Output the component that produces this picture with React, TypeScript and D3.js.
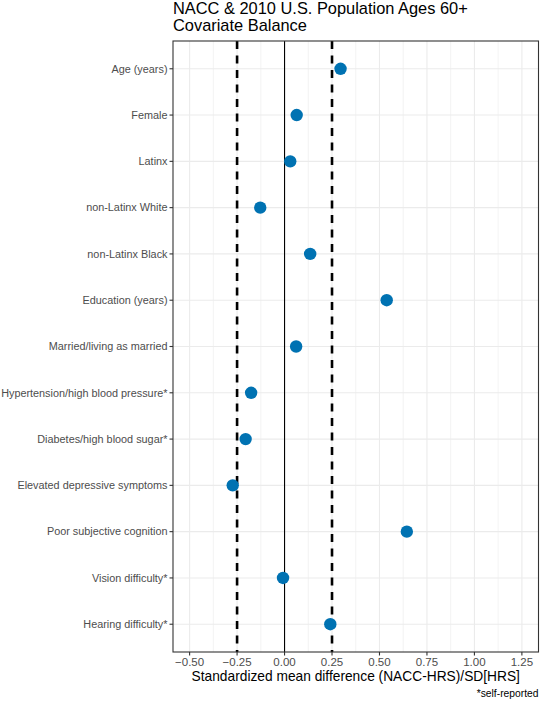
import React from "react";
import * as d3 from "d3";

const categories = [
  "Age (years)",
  "Female",
  "Latinx",
  "non-Latinx White",
  "non-Latinx Black",
  "Education (years)",
  "Married/living as married",
  "Hypertension/high blood pressure*",
  "Diabetes/high blood sugar*",
  "Elevated depressive symptoms",
  "Poor subjective cognition",
  "Vision difficulty*",
  "Hearing difficulty*",
];
const smd = [0.295, 0.064, 0.03, -0.128, 0.135, 0.538, 0.061, -0.176, -0.205, -0.273, 0.644, -0.008, 0.241];
const xTicks = [-0.5, -0.25, 0, 0.25, 0.5, 0.75, 1.0, 1.25];
const xMinor = [-0.375, -0.125, 0.125, 0.375, 0.625, 0.875, 1.125];
const thresholds = [-0.25, 0.25];
const titleLines = ["NACC & 2010 U.S. Population Ages 60+", "Covariate Balance"];
const xTitle = "Standardized mean difference (NACC-HRS)/SD[HRS]";
const caption = "*self-reported";

export default function App() {
  const W = 540, H = 702;
  const left = 173, right = 538.5, top = 41, bottom = 652;
  const font = "'Liberation Sans', Arial, sans-serif";
  const x = d3.scaleLinear().domain([-0.5875, 1.3375]).range([left, right]);
  const y = d3.scalePoint<string>().domain(categories).range([top, bottom]).padding(0.6);
  return (
    <svg width={W} height={H} style={{ position: "absolute", left: 0, top: 0, background: "#fff" }} fontFamily={font}>
      <rect x={0} y={0} width={W} height={H} fill="#fff" />
      {titleLines.map((t, i) => (
        <text key={t} x={left} y={14 + i * 17} fontSize={16.4} fill="#000">{t}</text>
      ))}
      {/* minor grid */}
      {xMinor.map((v) => (
        <line key={"mi" + v} x1={x(v)} x2={x(v)} y1={top} y2={bottom} stroke="#ebebeb" strokeWidth={0.6} />
      ))}
      {/* major grid */}
      {xTicks.map((v) => (
        <line key={"ma" + v} x1={x(v)} x2={x(v)} y1={top} y2={bottom} stroke="#ebebeb" strokeWidth={1.1} />
      ))}
      {categories.map((c) => (
        <line key={"hg" + c} x1={left} x2={right} y1={y(c)} y2={y(c)} stroke="#ebebeb" strokeWidth={1.1} />
      ))}
      {/* threshold lines */}
      {thresholds.map((v) => (
        <line key={"th" + v} x1={x(v)} x2={x(v)} y1={top} y2={bottom} stroke="#000" strokeWidth={2.6} strokeDasharray="8 6.5" />
      ))}
      <line x1={x(0)} x2={x(0)} y1={top} y2={bottom} stroke="#000" strokeWidth={1.1} />
      {/* points */}
      {categories.map((c, i) => (
        <circle key={"p" + c} cx={x(smd[i])} cy={y(c)} r={6.2} fill="#0072B2" />
      ))}
      {/* panel border */}
      <rect x={left} y={top} width={right - left} height={bottom - top} fill="none" stroke="#333" strokeWidth={1.1} />
      {/* y axis */}
      {categories.map((c) => (
        <g key={"yl" + c}>
          <line x1={left - 3.5} x2={left} y1={y(c)} y2={y(c)} stroke="#333" strokeWidth={1.1} />
          <text x={left - 5.5} y={y(c)} dy="0.35em" textAnchor="end" fontSize={10.85} fill="#4d4d4d">{c}</text>
        </g>
      ))}
      {/* x axis */}
      {xTicks.map((v) => (
        <g key={"xl" + v}>
          <line x1={x(v)} x2={x(v)} y1={bottom} y2={bottom + 3.5} stroke="#333" strokeWidth={1.1} />
          <text x={x(v)} y={bottom + 13.5} textAnchor="middle" fontSize={11.5} fill="#4d4d4d">{d3.format(".2f")(v)}</text>
        </g>
      ))}
      <text x={(left + right) / 2} y={681} textAnchor="middle" fontSize={13.75} fill="#000">{xTitle}</text>
      <text x={right} y={697} textAnchor="end" fontSize={10.3} fill="#000">{caption}</text>
    </svg>
  );
}
